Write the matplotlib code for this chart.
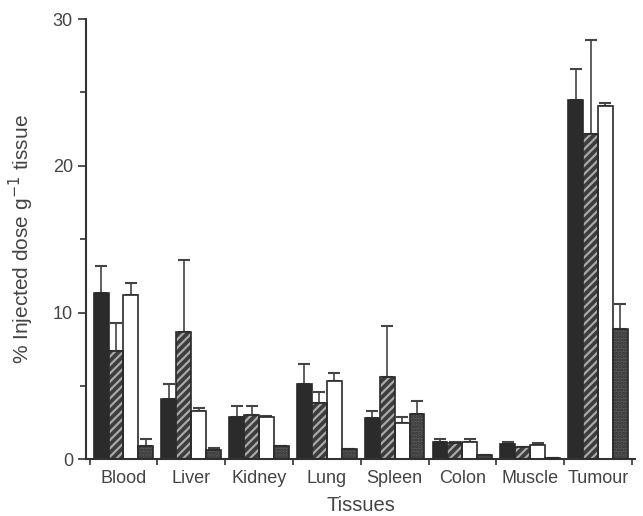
import numpy as np
import matplotlib.pyplot as plt

plt.rcParams['font.family'] = ['Liberation Sans', 'DejaVu Sans']

tissues = ['Blood', 'Liver', 'Kidney', 'Lung', 'Spleen', 'Colon', 'Muscle', 'Tumour']

# four treatment groups: mean and upper error (SD)
black_mean = [11.3, 4.1, 2.9, 5.1, 2.8, 1.2, 1.05, 24.5]
black_err = [1.9, 1.0, 0.7, 1.4, 0.5, 0.2, 0.15, 2.1]
hatch_mean = [7.4, 8.7, 3.0, 3.8, 5.6, 1.1, 0.85, 22.2]
hatch_err = [1.9, 4.9, 0.6, 0.8, 3.5, 0.1, 0.0, 6.4]
white_mean = [11.2, 3.3, 2.9, 5.3, 2.5, 1.2, 1.0, 24.1]
white_err = [0.8, 0.2, 0.05, 0.6, 0.4, 0.15, 0.1, 0.2]
dot_mean = [0.9, 0.6, 0.9, 0.7, 3.1, 0.3, 0.1, 8.9]
dot_err = [0.5, 0.15, 0.0, 0.0, 0.9, 0.0, 0.0, 1.7]

x = np.arange(len(tissues))
w = 0.22
txt = '#444444'

fig = plt.figure(figsize=(6.43, 5.16), dpi=100)
ax = fig.add_axes([0.134, 0.110, 0.854, 0.853])

ekw = dict(ecolor='#444444', capsize=4, elinewidth=1.2, capthick=1.5)


def draw(pos, mean, err, face, hatch=None, hcol=None):
    yerr = [np.zeros(len(mean)), err]
    if hatch:
        ax.bar(pos, mean, w, color=face, edgecolor=hcol, hatch=hatch, linewidth=0, zorder=2)
        ax.bar(pos, mean, w, fill=False, edgecolor='#2a2a2a', linewidth=1.2, zorder=3)
    else:
        ax.bar(pos, mean, w, color=face, edgecolor='#2a2a2a', linewidth=1.2, zorder=2)
    ax.errorbar(pos, mean, yerr=yerr, fmt='none', zorder=1, **ekw)


plt.rcParams['hatch.linewidth'] = 1.6
draw(x - 1.5 * w, black_mean, black_err, '#2b2b2b')
draw(x - 0.5 * w, hatch_mean, hatch_err, '#3c3c3c', '////', '#a8a8a8')
draw(x + 0.5 * w, white_mean, white_err, 'white')
draw(x + 1.5 * w, dot_mean, dot_err, '#5a5a5a', '.....', '#333333')

ax.set_xlim(-0.55, len(tissues) - 0.45)
ax.set_ylim(0, 30)
ax.spines['top'].set_visible(False)
ax.spines['right'].set_visible(False)
for s in ['left', 'bottom']:
    ax.spines[s].set_color('#333333')
    ax.spines[s].set_linewidth(1.5)

ax.set_yticks([0, 10, 20, 30])
ax.set_yticks([5, 15, 25], minor=True)
ax.set_xticks(x)
ax.set_xticklabels(tissues)
ax.set_xticks(np.arange(len(tissues) + 1) - 0.5, minor=True)
ax.tick_params(axis='x', which='major', length=0, pad=8, labelsize=13, labelcolor=txt)
ax.tick_params(axis='x', which='minor', length=4, width=1.2, color='#333333')
ax.tick_params(axis='y', which='both', length=6, width=1.2, color='#333333', labelsize=13, labelcolor=txt)
ax.tick_params(axis='y', which='minor', length=4)

ax.set_xlabel('Tissues', fontsize=14.5, color=txt, labelpad=6)
ax.set_ylabel('% Injected dose g$^{-1}$ tissue', fontsize=15, color=txt, labelpad=12)

fig.savefig('out.png', dpi=100)
